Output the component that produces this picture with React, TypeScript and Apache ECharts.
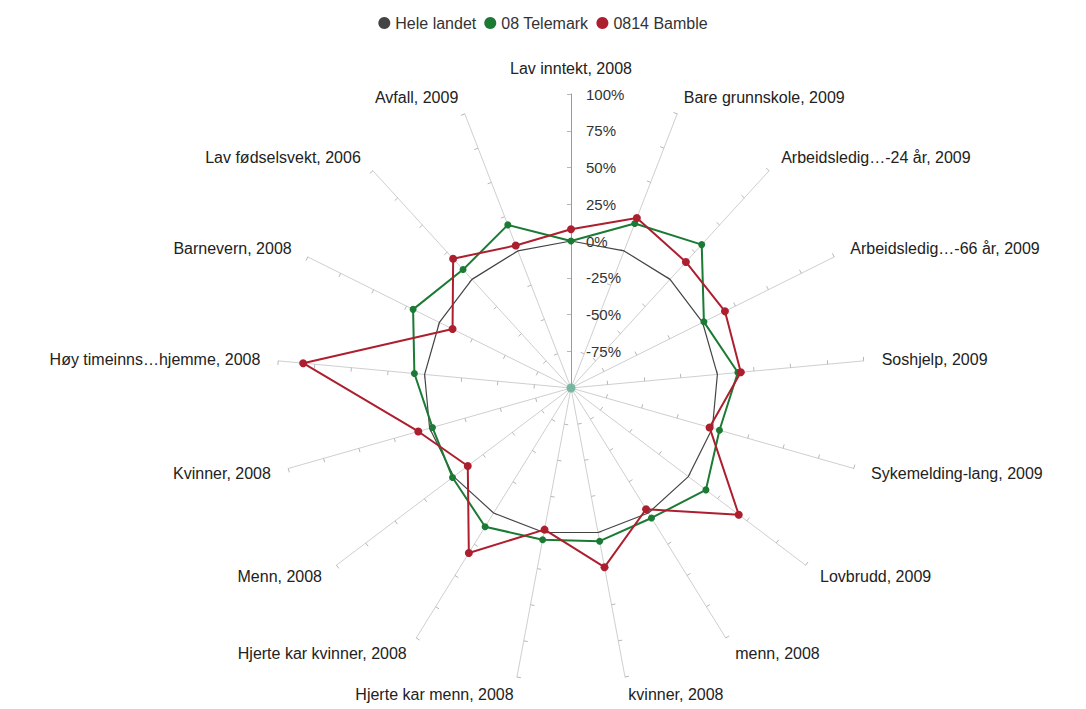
import React, { useEffect, useRef } from 'react';
import * as echarts from 'echarts';

// Categories in clockwise order starting from the top axis
const categories: string[] = [
  'Lav inntekt, 2008',
  'Bare grunnskole, 2009',
  'Arbeidsledig…-24 år, 2009',
  'Arbeidsledig…-66 år, 2009',
  'Soshjelp, 2009',
  'Sykemelding-lang, 2009',
  'Lovbrudd, 2009',
  'menn, 2008',
  'kvinner, 2008',
  'Hjerte kar menn, 2008',
  'Hjerte kar kvinner, 2008',
  'Menn, 2008',
  'Kvinner, 2008',
  'Høy timeinns…hjemme, 2008',
  'Barnevern, 2008',
  'Lav fødselsvekt, 2006',
  'Avfall, 2009',
];

const seriesNames: string[] = ['Hele landet', '08 Telemark', '0814 Bamble'];

const heleLandet: number[] = [0, 0, 0, 0, 0, 0, 0, 0, 0, 0, 0, 0, 0, 0, 0, 0, 0];
const telemark: number[] = [0, 20, 32, 1, 14, 5, 15, 4, 6, 5, 11, 1, -2, 7, 20, 9, 19];
const bamble: number[] = [8, 24, 16, 17, 16, -2, 43, -3, 24, -2, 32, -12, 8, 83, -10, 19, 4];

const axisMin = -100;
const axisMax = 100;
const splitCount = 8;

// ECharts radar runs counter-clockwise; reorder so it reads clockwise
const cw = <T,>(arr: T[]): T[] => [arr[0], ...arr.slice(1).reverse()];

export default function App() {
  const ref = useRef<HTMLDivElement>(null);

  useEffect(() => {
    document.body.style.margin = '0';
    document.body.style.overflow = 'hidden';
    if (!ref.current) return;
    const chart = echarts.init(ref.current, null, { renderer: 'svg' });
    const font = '"Liberation Sans", Arial, sans-serif';
    const cx = 571;
    const cy = 388;

    const indicator = cw(categories).map((name, i) => {
      const base: any = { name, min: axisMin, max: axisMax };
      if (i === 0) {
        base.axisLabel = {
          show: true,
          color: '#333',
          fontSize: 15,
          fontFamily: font,
          margin: -15,
          align: 'left',
          formatter: (v: number) => (v === axisMin ? '' : v + '%'),
        };
        base.axisLine = { lineStyle: { color: '#9a9a9a', width: 1 } };
      }
      return base;
    });

    const colors = ['#444444', '#1b7a34', '#ad1f2f'];
    const values = [heleLandet, telemark, bamble];

    chart.setOption({
      animation: false,
      backgroundColor: '#ffffff',
      legend: {
        top: 10,
        left: 'center',
        icon: 'circle',
        itemWidth: 12,
        itemHeight: 12,
        itemGap: 8,
        data: seriesNames,
        textStyle: { color: '#333', fontSize: 16, fontFamily: font },
      },
      radar: {
        center: [cx, cy],
        radius: 294,
        startAngle: 90,
        splitNumber: splitCount,
        shape: 'polygon',
        nameGap: 18,
        axisName: { color: '#222', fontSize: 16, fontFamily: font },
        axisLine: { show: true, lineStyle: { color: '#cfcfcf', width: 1 } },
        axisTick: { show: true, length: 4, lineStyle: { color: '#b8b8b8' } },
        axisLabel: { show: false },
        splitLine: { show: false },
        splitArea: { show: false },
        indicator,
      },
      graphic: [
        {
          type: 'circle',
          z: 100,
          shape: { cx, cy, r: 4.5 },
          style: { fill: '#6cb59b', opacity: 0.85 },
        },
      ],
      series: seriesNames.map((name, k) => ({
        type: 'radar',
        name,
        z: 2 + k,
        symbol: k === 0 ? 'none' : 'circle',
        symbolSize: k === 2 ? 8 : 7,
        lineStyle: { color: colors[k], width: k === 0 ? 1.2 : 2 },
        itemStyle: { color: colors[k] },
        data: [{ name, value: cw(values[k]) }],
      })),
    });

    return () => chart.dispose();
  }, []);

  return <div ref={ref} style={{ width: 1086, height: 709 }} />;
}
